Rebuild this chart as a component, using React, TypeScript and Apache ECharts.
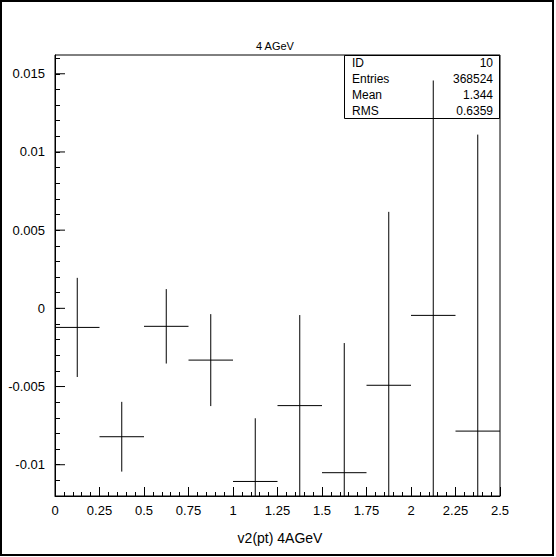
import React, { useEffect, useRef } from "react";
import * as echarts from "echarts";

const binCenters = [0.125, 0.375, 0.625, 0.875, 1.125, 1.375, 1.625, 1.875, 2.125, 2.375];
const binValues = [-0.00122, -0.00821, -0.00115, -0.00331, -0.01107, -0.00622, -0.01051, -0.00492, -0.00045, -0.00785];
const binErrors = [0.00317, 0.00223, 0.00238, 0.00294, 0.00404, 0.00579, 0.00829, 0.01109, 0.01502, 0.01896];
const binHalfWidth = 0.125;

const yMajorTicks = [-0.01, -0.005, 0, 0.005, 0.01, 0.015];
const xLabels = ["0", "0.25", "0.5", "0.75", "1", "1.25", "1.5", "1.75", "2", "2.25", "2.5"];

const statNames = ["ID", "Entries", "Mean", "RMS"];
const statValues = ["10", "368524", "1.344", "0.6359"];

const chartTitle = "4 AGeV";
const xTitle = "v2(pt) 4AGeV";

const FONT = "'Liberation Sans', Arial, sans-serif";

export default function App() {
  const ref = useRef<HTMLDivElement>(null);
  useEffect(() => {
    document.body.style.margin = "0";
    const chart = echarts.init(ref.current!, null, { renderer: "svg" });
    const gL = 55, gT = 55, gR = 56, gB = 61;

    const errData = binCenters.map((c, i) => [c, binValues[i], binErrors[i]]);
    const tickData = yMajorTicks.map((v) => [0, v]);

    const statsGraphics: any[] = [
      {
        type: "rect",
        shape: { x: 344.5, y: 55.5, width: 155, height: 63 },
        style: { fill: "none", stroke: "#000", lineWidth: 1 },
        z: 100,
      },
    ];
    statNames.forEach((n, i) => {
      statsGraphics.push({
        type: "text",
        x: 352,
        y: 63 + i * 15.9,
        style: { text: n, fill: "#000", font: `12px ${FONT}`, textAlign: "left", textVerticalAlign: "middle" },
        z: 101,
      });
      statsGraphics.push({
        type: "text",
        x: 493,
        y: 63 + i * 15.9,
        style: { text: statValues[i], fill: "#000", font: `12px ${FONT}`, textAlign: "right", textVerticalAlign: "middle" },
        z: 101,
      });
    });

    chart.setOption({
      animation: false,
      backgroundColor: "#fff",
      grid: {
        left: gL,
        top: gT,
        right: gR,
        bottom: gB,
        show: true,
        borderColor: "#000",
        borderWidth: 1,
        backgroundColor: "transparent",
      },
      xAxis: {
        type: "value",
        min: 0,
        max: 2.5,
        interval: 0.25,
        axisLine: { show: true, onZero: false, lineStyle: { color: "#000", width: 1 } },
        axisTick: { show: true, inside: true, length: 9, lineStyle: { color: "#000" } },
        minorTick: { show: true, splitNumber: 5, length: 4, lineStyle: { color: "#000" } },
        splitLine: { show: false },
        axisLabel: {
          color: "#000",
          fontSize: 13,
          fontFamily: FONT,
          margin: 8,
          formatter: (v: number) => {
            const idx = Math.round(v / 0.25);
            return xLabels[idx] ?? "";
          },
        },
      },
      yAxis: {
        type: "value",
        min: -0.012,
        max: 0.0162,
        interval: 0.001,
        axisLine: { show: true, onZero: false, lineStyle: { color: "#000", width: 1 } },
        axisTick: { show: true, inside: true, length: 5, lineStyle: { color: "#000" } },
        splitLine: { show: false },
        axisLabel: {
          color: "#000",
          fontSize: 13,
          fontFamily: FONT,
          margin: 10,
          showMinLabel: false,
          showMaxLabel: false,
          formatter: (v: number) => {
            const m = Math.round(v * 1e6);
            if (m % 5000 !== 0) return "";
            return String(Math.round(v * 1000) / 1000);
          },
        },
      },
      series: [
        {
          type: "custom",
          name: "ticks",
          data: tickData,
          silent: true,
          renderItem: (params: any, api: any) => {
            const p = api.coord([api.value(0), api.value(1)]);
            return {
              type: "line",
              shape: { x1: p[0], y1: p[1], x2: p[0] + 10, y2: p[1] },
              style: { stroke: "#000", lineWidth: 1 },
            };
          },
        },
        {
          type: "custom",
          name: "v2",
          data: errData,
          silent: true,
          renderItem: (params: any, api: any) => {
            const c = api.value(0);
            const v = api.value(1);
            const e = api.value(2);
            const cs = params.coordSys;
            const top = cs.y, bot = cs.y + cs.height;
            const clamp = (y: number) => Math.max(top, Math.min(bot, y));
            const pl = api.coord([c - binHalfWidth, v]);
            const pr = api.coord([c + binHalfWidth, v]);
            const pt = api.coord([c, v + e]);
            const pb = api.coord([c, v - e]);
            return {
              type: "group",
              children: [
                {
                  type: "line",
                  shape: { x1: pl[0], y1: pl[1], x2: pr[0], y2: pr[1] },
                  style: { stroke: "#000", lineWidth: 1 },
                },
                {
                  type: "line",
                  shape: { x1: pt[0], y1: clamp(pt[1]), x2: pb[0], y2: clamp(pb[1]) },
                  style: { stroke: "#000", lineWidth: 1 },
                },
              ],
            };
          },
        },
      ],
      graphic: [
        {
          type: "rect",
          shape: { x: 1, y: 1, width: 552, height: 554 },
          style: { fill: "none", stroke: "#000", lineWidth: 2 },
          z: 100,
        },
        {
          type: "text",
          x: 275,
          y: 46,
          style: { text: chartTitle, fill: "#000", font: `11px ${FONT}`, textAlign: "center", textVerticalAlign: "middle" },
          z: 101,
        },
        {
          type: "text",
          x: 280,
          y: 538,
          style: { text: xTitle, fill: "#000", font: `14px ${FONT}`, textAlign: "center", textVerticalAlign: "middle" },
          z: 101,
        },
        ...statsGraphics,
      ],
    });
    return () => chart.dispose();
  }, []);
  return <div ref={ref} style={{ width: 556, height: 557 }} />;
}
